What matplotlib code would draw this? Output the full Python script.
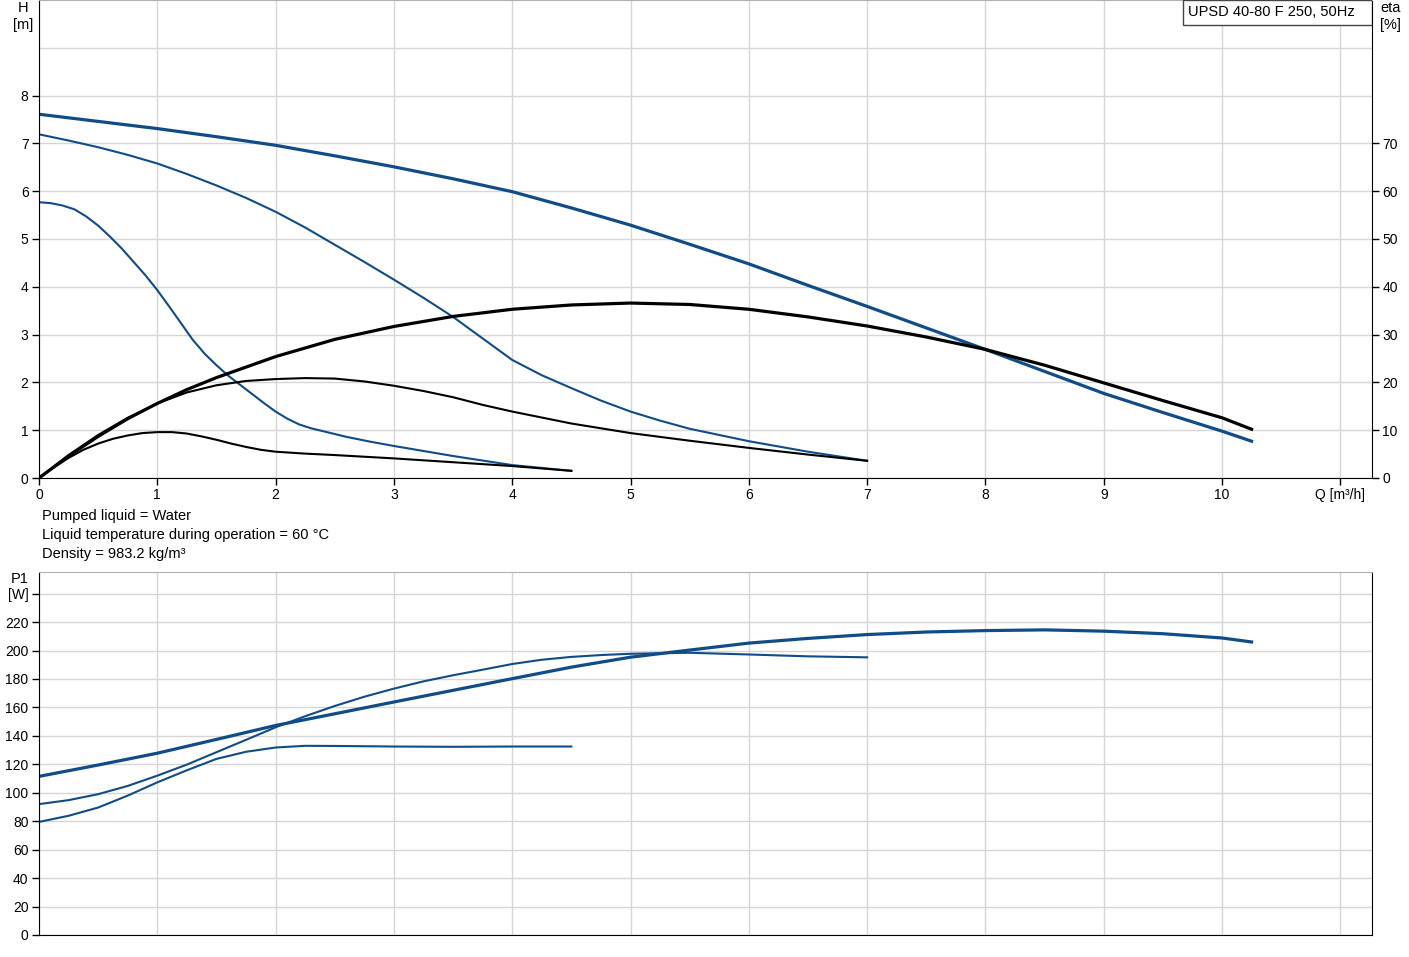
import matplotlib.pyplot as plt
from matplotlib.patches import Rectangle

plt.rcParams['font.family'] = ['Liberation Sans', 'DejaVu Sans']
plt.rcParams['font.size'] = 10

BLUE = '#0f4c88'
GRID = '#d6d6d6'

# ---- data ----
# head curves H [m] for the three speeds
q_h3 = [0, 0.5, 1, 1.5, 2, 2.5, 3, 3.5, 4, 4.5, 5, 5.5, 6, 6.5, 7, 7.5, 8, 8.5, 9, 9.5, 10, 10.25]
h3 = [7.61, 7.46, 7.31, 7.14, 6.96, 6.74, 6.51, 6.26, 5.99, 5.65, 5.29, 4.89, 4.48, 4.03, 3.59, 3.14,
      2.69, 2.23, 1.77, 1.37, 0.98, 0.77]
q_h2 = [0, 0.25, 0.5, 0.75, 1, 1.25, 1.5, 1.75, 2, 2.25, 2.5, 2.75, 3, 3.25, 3.5, 3.75, 4,
        4.25, 4.5, 4.75, 5, 5.25, 5.5, 6, 6.5, 7]
h2 = [7.19, 7.06, 6.92, 6.76, 6.58, 6.36, 6.12, 5.86, 5.57, 5.24, 4.88, 4.52, 4.15, 3.77, 3.37,
      2.92, 2.47, 2.15, 1.88, 1.62, 1.39, 1.20, 1.03, 0.77, 0.55, 0.36]
q_h1 = [0, 0.1, 0.2, 0.3, 0.4, 0.5, 0.6, 0.7, 0.8, 0.9, 1.0, 1.1, 1.2, 1.3, 1.4, 1.5, 1.6, 1.7,
        1.8, 1.9, 2.0, 2.1, 2.2, 2.3, 2.4, 2.6, 2.8, 3.0, 3.5, 4.0, 4.5]
h1 = [5.77, 5.75, 5.70, 5.62, 5.47, 5.28, 5.05, 4.80, 4.52, 4.24, 3.93, 3.59, 3.24, 2.89, 2.60,
      2.36, 2.14, 1.95, 1.76, 1.57, 1.39, 1.24, 1.12, 1.04, 0.98, 0.86, 0.76, 0.67, 0.46, 0.27, 0.15]

# efficiency eta [%]
q_e3 = [0, 0.25, 0.5, 0.75, 1, 1.25, 1.5, 2, 2.5, 3, 3.5, 4, 4.5, 5, 5.5, 6, 6.5, 7, 7.5, 8, 8.5,
        9, 9.5, 10, 10.25]
e3 = [0, 4.6, 8.7, 12.4, 15.6, 18.5, 21.0, 25.4, 29.0, 31.7, 33.8, 35.3, 36.2, 36.6, 36.3, 35.3,
      33.7, 31.8, 29.5, 26.9, 23.6, 19.9, 16.2, 12.6, 10.2]
q_e2 = [0, 0.25, 0.5, 0.75, 1, 1.25, 1.5, 1.75, 2, 2.25, 2.5, 2.75, 3, 3.25, 3.5, 3.75, 4, 4.5,
        5, 5.5, 6, 6.5, 7]
e2 = [0, 4.8, 9.0, 12.6, 15.6, 17.9, 19.4, 20.3, 20.7, 20.9, 20.8, 20.2, 19.3, 18.2, 16.9, 15.3,
      13.9, 11.4, 9.4, 7.8, 6.3, 4.9, 3.6]
q_e1 = [0, 0.125, 0.25, 0.375, 0.5, 0.625, 0.75, 0.875, 1, 1.125, 1.25, 1.375, 1.5, 1.625, 1.75,
        1.875, 2, 2.25, 2.5, 3, 3.5, 4, 4.5]
e1 = [0, 2.2, 4.2, 5.9, 7.2, 8.2, 8.9, 9.4, 9.6, 9.6, 9.3, 8.7, 8.0, 7.2, 6.5, 5.9, 5.5, 5.1, 4.8,
      4.1, 3.3, 2.5, 1.5]

# power input P1 [W]
q_p3 = [0, 0.5, 1, 1.5, 2, 2.5, 3, 3.5, 4, 4.5, 5, 5.5, 6, 6.5, 7, 7.5, 8, 8.5, 9, 9.5, 10, 10.25]
p3 = [111.5, 119.5, 127.8, 137.5, 147.3, 155.5, 163.8, 172.0, 180.2, 188.3, 195.3, 200.3, 205.2,
      208.5, 211.2, 213.0, 214.0, 214.5, 213.6, 211.8, 208.8, 206.0]
q_p2 = [0, 0.25, 0.5, 0.75, 1, 1.25, 1.5, 1.75, 2, 2.25, 2.5, 2.75, 3, 3.25, 3.5, 3.75, 4, 4.25,
        4.5, 4.75, 5, 5.25, 5.5, 6, 6.5, 7]
p2 = [92, 94.8, 99, 104.8, 112, 119.8, 128.5, 137.2, 146, 153.8, 161, 167.5, 173.2, 178.3, 182.6,
      186.5, 190.5, 193.5, 195.5, 196.8, 197.7, 198.1, 198.4, 197.2, 195.9, 195.2]
q_p1 = [0, 0.25, 0.5, 0.75, 1, 1.25, 1.5, 1.75, 2, 2.25, 2.5, 3, 3.5, 4, 4.5]
p1 = [79.5, 83.8, 89.6, 98.0, 107.3, 115.8, 123.8, 128.8, 131.8, 133.0, 132.9, 132.5, 132.3,
      132.5, 132.5]

x_ticks = list(range(12))
x_labels = [str(v) for v in range(11)] + ['Q [m³/h]']
notes = ['Pumped liquid = Water',
         'Liquid temperature during operation = 60 °C',
         'Density = 983.2 kg/m³']
title_box = 'UPSD 40-80 F 250, 50Hz'


def style_axes(ax):
    ax.grid(True, which='both', color=GRID, lw=1)
    ax.set_axisbelow(True)
    ax.spines['top'].set_color('#b0b0b0')
    for s in ['left', 'bottom', 'right']:
        ax.spines[s].set_color('black')
    ax.tick_params(length=5, width=1, colors='black', pad=2.5)
    ax.tick_params(which='minor', length=0)


fig = plt.figure(figsize=(14.09, 9.57), dpi=100)

# ---- head / efficiency ----
ax = fig.add_axes([39 / 1409, 1 - 478 / 957, 1333 / 1409, 478 / 957])
style_axes(ax)
ax.set_xlim(0, 1333 / 118.3)
ax.set_ylim(0, 10)
ax.set_xticks(x_ticks)
ax.set_xticklabels(x_labels)
ax.set_yticks(range(9))
ax.set_yticks([9], minor=True)

ax.plot(q_h3, h3, color=BLUE, lw=2.3)
ax.plot(q_h2, h2, color=BLUE, lw=1.5)
ax.plot(q_h1, h1, color=BLUE, lw=1.5)

ax2 = ax.twinx()
ax2.set_ylim(0, 100)
ax2.set_yticks(range(0, 80, 10))
ax2.tick_params(length=5, width=1, colors='black', pad=2.5)
for s in ax2.spines.values():
    s.set_visible(False)
ax2.plot(q_e3, e3, color='black', lw=2.3)
ax2.plot(q_e2, e2, color='black', lw=1.5)
ax2.plot(q_e1, e1, color='black', lw=1.5)

ax.text(-0.0045, 0.997, 'H\n[m]', transform=ax.transAxes, ha='right', va='top',
        fontsize=10.5, linespacing=1.2, multialignment='center')
ax.text(1.006, 0.997, 'eta\n[%]', transform=ax.transAxes, ha='left', va='top',
        fontsize=10.5, linespacing=1.2)
ax2.add_patch(Rectangle((0.858, 0.948), 0.142, 0.052, transform=ax.transAxes,
                        facecolor='white', edgecolor='#444444', lw=1, zorder=5))
ax2.text(0.862, 0.974, title_box, transform=ax.transAxes, ha='left', va='center',
         fontsize=10.5, zorder=6)

for i, line in enumerate(notes):
    fig.text(42 / 1409, 1 - (516 + 19 * i) / 957, line, ha='left', va='center', fontsize=10.5)

# ---- power ----
axp = fig.add_axes([39 / 1409, 1 - 935 / 957, 1333 / 1409, 363 / 957])
style_axes(axp)
axp.set_xlim(0, 1333 / 118.3)
axp.set_ylim(0, 363 / 28.45 * 20)
axp.set_xticks(x_ticks)
axp.set_xticklabels([])
axp.tick_params(axis='x', length=0)
axp.set_yticks(range(0, 260, 20))
axp.set_yticklabels([str(v) for v in range(0, 240, 20)] + ['[W]'])
axp.text(-0.0075, 1.0, 'P1', transform=axp.transAxes, ha='right', va='top', fontsize=10.5)

axp.plot(q_p3, p3, color=BLUE, lw=2.3)
axp.plot(q_p2, p2, color=BLUE, lw=1.5)
axp.plot(q_p1, p1, color=BLUE, lw=1.5)

fig.savefig('out.png', dpi=100)
